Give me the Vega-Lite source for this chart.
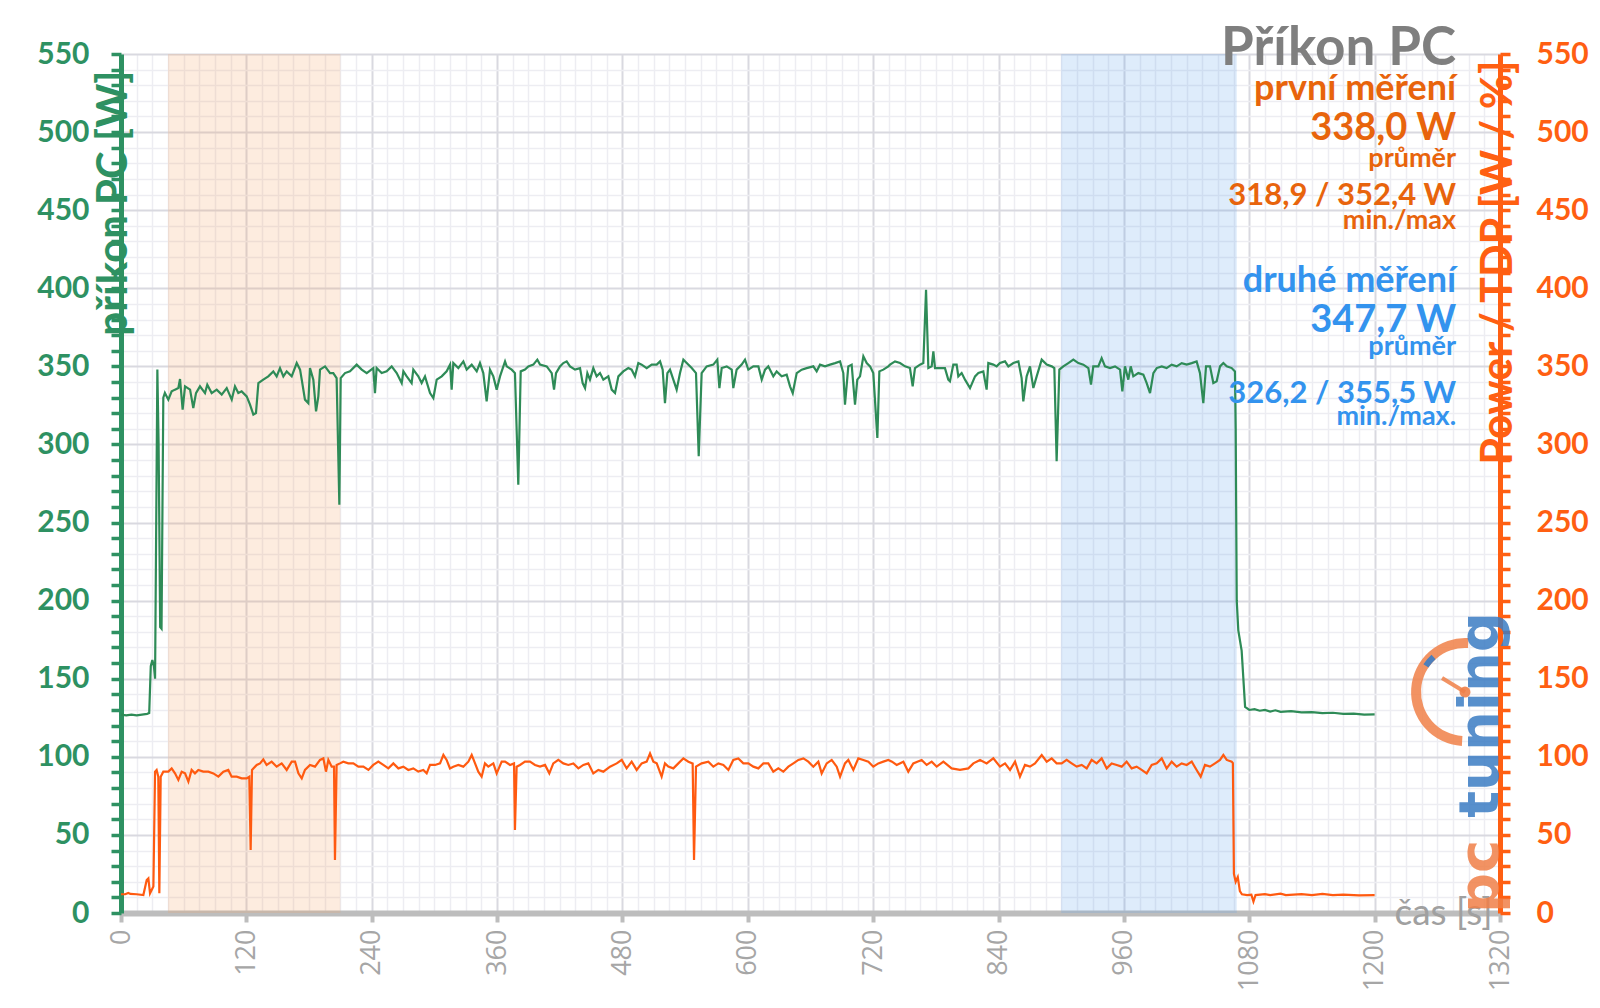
{
  "$schema": "https://vega.github.io/schema/vega-lite/v6.json",
  "width": 1379,
  "height": 859,
  "autosize": {"type": "none"},
  "padding": {"left": 121, "top": 54, "right": 100, "bottom": 95},
  "background": "white",
  "config": {"view": {"stroke": null}},
  "datasets": {
    "pasma": [
      {"t": 45, "t_konec": 210, "mereni": "první"},
      {"t": 900, "t_konec": 1068, "mereni": "druhé"}
    ],
    "logo": [
      {"text": "pc", "t": 1318, "v": 0, "cast": "pc"},
      {"text": "tuning", "t": 1318, "v": 61, "cast": "tuning"}
    ],
    "logo_budik": [
      {"t": 1286.5, "v": 141.5, "t2": 1264.5, "v2": 150.5}
    ],
    "popisky": [
      {"text": "Příkon PC", "t": 1278, "v": 543, "serie": "nadpis", "role": "nadpis"},
      {"text": "první měření", "t": 1278, "v": 520.6, "serie": "první", "role": "měření"},
      {"text": "338,0 W", "t": 1278, "v": 495, "serie": "první", "role": "hodnota"},
      {"text": "průměr", "t": 1278, "v": 477.7, "serie": "první", "role": "popis"},
      {"text": "318,9 / 352,4 W", "t": 1278, "v": 453.4, "serie": "první", "role": "rozsah"},
      {"text": "min./max", "t": 1278, "v": 438, "serie": "první", "role": "popis"},
      {"text": "druhé měření", "t": 1278, "v": 397.6, "serie": "druhé", "role": "měření"},
      {"text": "347,7 W", "t": 1278, "v": 372, "serie": "druhé", "role": "hodnota"},
      {"text": "průměr", "t": 1278, "v": 357.3, "serie": "druhé", "role": "popis"},
      {"text": "326,2 / 355,5 W", "t": 1278, "v": 326.5, "serie": "druhé", "role": "rozsah"},
      {"text": "min./max.", "t": 1278, "v": 312.5, "serie": "druhé", "role": "popis"}
    ],
    "prikon": [
      {"t":0,"p":127},{"t":5,"p":126.5},{"t":10,"p":127},{"t":15,"p":126.5},{"t":20,"p":127},{"t":25,"p":127.5},{"t":27,"p":128},{"t":28.5,"p":158},{"t":30,"p":162},{"t":31.5,"p":158},{"t":32.6,"p":150},{"t":34.8,"p":348},{"t":36,"p":300},{"t":37.5,"p":183},{"t":38.8,"p":182},{"t":40.5,"p":330},{"t":42,"p":333},
      {"t":45.3,"p":328.7},{"t":48.5,"p":334},{"t":51.7,"p":335.1},{"t":54.9,"p":336.1},{"t":56.5,"p":341.9},{"t":59,"p":322.3},{"t":61.3,"p":337.2},{"t":66.1,"p":335.1},{"t":69.2,"p":323.3},{"t":71.8,"p":332.9},{"t":75.6,"p":337.2},{"t":80.4,"p":332.9},{"t":82.6,"p":338.3},{"t":86.8,"p":332.9},{"t":91.6,"p":335.1},{"t":96.4,"p":331.9},{"t":101.2,"p":336.1},{"t":106,"p":328.7},{"t":109.1,"p":337.2},{"t":112.3,"p":332.9},{"t":115.5,"p":334},{"t":120.3,"p":330.8},{"t":123.5,"p":325.5},{"t":126.7,"p":319.1},{"t":129.2,"p":320.1},{"t":131.5,"p":339.3},{"t":136.2,"p":341.5},{"t":141,"p":343.6},{"t":145.8,"p":346.8},{"t":149,"p":343.6},{"t":152.2,"p":348.9},{"t":155.4,"p":343.6},{"t":158.6,"p":346.8},{"t":163.4,"p":343.6},{"t":168.2,"p":352.1},{"t":171.4,"p":347.9},{"t":173,"p":341.5},{"t":176.1,"p":328.7},{"t":179.3,"p":326.5},{"t":180.9,"p":348.9},{"t":184.1,"p":341.5},{"t":186.7,"p":321.2},{"t":188.9,"p":330.8},{"t":190.5,"p":347.9},{"t":195.3,"p":350},{"t":200.1,"p":345.7},{"t":203.2,"p":345.7},{"t":206.4,"p":342.5},{"t":209,"p":261.4},{"t":210.3,"p":342.5},{"t":214.4,"p":345.7},{"t":219.2,"p":346.8},{"t":225.6,"p":351.1},{"t":230.4,"p":347.9},{"t":235.2,"p":345.7},{"t":241.5,"p":348.9},{"t":243.1,"p":332.9},{"t":244.7,"p":348.9},{"t":249.5,"p":345.7},{"t":254.3,"p":346.8},{"t":259.1,"p":350},{"t":263.9,"p":345.7},{"t":268.7,"p":339.3},{"t":270.3,"p":346.8},{"t":273.5,"p":343.6},{"t":278.2,"p":339.3},{"t":279.8,"p":347.9},{"t":284.6,"p":343.6},{"t":287.8,"p":339.3},{"t":291,"p":343.6},{"t":295.8,"p":332.9},{"t":299,"p":329.7},{"t":302.2,"p":341.5},{"t":307,"p":343.6},{"t":311.7,"p":346.8},{"t":315,"p":351.1},{"t":316.5,"p":335.1},{"t":318.1,"p":352.1},{"t":322.9,"p":348.9},{"t":327.7,"p":353.2},{"t":330.9,"p":347.9},{"t":335.7,"p":351.1},{"t":340.5,"p":346.8},{"t":343.6,"p":352.1},{"t":346.8,"p":345.7},{"t":350,"p":327.6},{"t":353.2,"p":347.9},{"t":356.4,"p":343.6},{"t":359.6,"p":335.1},{"t":362.8,"p":343.6},{"t":367.6,"p":353.2},{"t":369.2,"p":350},{"t":374,"p":347.9},{"t":377.1,"p":345.7},{"t":380.3,"p":274.2},{"t":382.6,"p":346.8},{"t":386.7,"p":347.9},{"t":389.9,"p":350},{"t":394.7,"p":351.1},{"t":398.5,"p":354.3},{"t":401.1,"p":351.1},{"t":407.5,"p":350},{"t":412.3,"p":345.7},{"t":414.5,"p":335.1},{"t":416.4,"p":345.7},{"t":420.2,"p":350},{"t":423.4,"p":352.1},{"t":426.6,"p":353.2},{"t":429.8,"p":350},{"t":434.6,"p":347.9},{"t":439.4,"p":348.9},{"t":441.9,"p":339.3},{"t":444.2,"p":336.1},{"t":446.4,"p":345.7},{"t":448.9,"p":341.5},{"t":452.1,"p":348.9},{"t":455.3,"p":343.6},{"t":458.5,"p":345.7},{"t":461.7,"p":341.5},{"t":466.5,"p":343.6},{"t":469.7,"p":335.1},{"t":472.9,"p":332.9},{"t":476.1,"p":343.6},{"t":480.8,"p":346.8},{"t":485.6,"p":348.9},{"t":488.8,"p":347.9},{"t":492,"p":343.6},{"t":495.2,"p":352.1},{"t":498.4,"p":351.1},{"t":503.2,"p":348.9},{"t":508,"p":351.1},{"t":512.8,"p":351.1},{"t":516,"p":353.2},{"t":518.5,"p":347.9},{"t":520.7,"p":326.5},{"t":523,"p":345.7},{"t":525.5,"p":347.9},{"t":528.7,"p":341.5},{"t":531.9,"p":335.1},{"t":535.1,"p":345.7},{"t":538.3,"p":354.3},{"t":541.5,"p":352.1},{"t":546.3,"p":348.9},{"t":550.4,"p":345.7},{"t":553,"p":292.4},{"t":555.8,"p":345.7},{"t":560.6,"p":350},{"t":567,"p":351.1},{"t":570.8,"p":354.3},{"t":572.8,"p":336.1},{"t":575,"p":348.9},{"t":579.8,"p":350},{"t":584.6,"p":347.9},{"t":586.1,"p":336.1},{"t":589.3,"p":347.9},{"t":594.1,"p":351.1},{"t":597.3,"p":354.3},{"t":600.5,"p":347.9},{"t":605.3,"p":350},{"t":610.1,"p":350},{"t":613.3,"p":341.5},{"t":616.5,"p":347.9},{"t":619.6,"p":350},{"t":624.4,"p":343.6},{"t":627.6,"p":346.8},{"t":632.4,"p":343.6},{"t":637.2,"p":344.7},{"t":640.4,"p":337.2},{"t":643,"p":332.9},{"t":646.8,"p":345.7},{"t":651.6,"p":347.9},{"t":656.3,"p":348.9},{"t":662.7,"p":350},{"t":665.9,"p":346.8},{"t":669.1,"p":351.1},{"t":673.9,"p":350},{"t":678.7,"p":351.1},{"t":683.5,"p":352.1},{"t":688.3,"p":353.2},{"t":691.4,"p":345.7},{"t":693,"p":325.5},{"t":696.2,"p":350},{"t":699.4,"p":351.1},{"t":702.6,"p":325.5},{"t":704.8,"p":341.5},{"t":707.4,"p":343.6},{"t":710.6,"p":356.4},{"t":713.8,"p":352.1},{"t":717,"p":350},{"t":720.1,"p":345.7},{"t":724,"p":304.1},{"t":725.9,"p":346.8},{"t":729.7,"p":347.9},{"t":734.5,"p":350},{"t":736.1,"p":351.1},{"t":740.9,"p":353.2},{"t":745.7,"p":352.1},{"t":750.5,"p":350},{"t":755.2,"p":348.9},{"t":757.8,"p":337.2},{"t":760,"p":348.9},{"t":764.8,"p":351.1},{"t":768,"p":352.1},{"t":770.6,"p":399},{"t":772.8,"p":348.9},{"t":776,"p":350},{"t":777.6,"p":359.6},{"t":779.2,"p":348.9},{"t":784,"p":348.9},{"t":788.7,"p":348.9},{"t":791.9,"p":341.5},{"t":793.5,"p":340.4},{"t":796.7,"p":351.1},{"t":799.9,"p":351.1},{"t":801.5,"p":343.6},{"t":804.7,"p":345.7},{"t":807.9,"p":341.5},{"t":812.7,"p":336.1},{"t":817.5,"p":343.6},{"t":820.7,"p":345.7},{"t":825.4,"p":346.8},{"t":828.6,"p":335.1},{"t":830.2,"p":352.1},{"t":835,"p":351.1},{"t":838.2,"p":350},{"t":841.4,"p":352.1},{"t":846.2,"p":353.2},{"t":849.4,"p":350},{"t":854.2,"p":352.1},{"t":859,"p":353.2},{"t":862.1,"p":342.5},{"t":863.7,"p":327.6},{"t":866.9,"p":343.6},{"t":870.1,"p":350},{"t":873.3,"p":336.1},{"t":876.5,"p":343.6},{"t":881.3,"p":354.3},{"t":886.1,"p":351.1},{"t":890.9,"p":350},{"t":893.4,"p":348.9},{"t":895.6,"p":289.2},{"t":898.2,"p":347.9},{"t":902,"p":350},{"t":906.8,"p":352.1},{"t":911.6,"p":354.3},{"t":916.4,"p":352.1},{"t":921.2,"p":351.1},{"t":926,"p":348.9},{"t":928.5,"p":338.3},{"t":930.7,"p":350},{"t":935.5,"p":350},{"t":938.7,"p":355.3},{"t":941.9,"p":350},{"t":946.7,"p":348.9},{"t":951.5,"p":350},{"t":956.3,"p":347.9},{"t":958.5,"p":334},{"t":961,"p":350},{"t":964.2,"p":341.5},{"t":966.5,"p":350},{"t":969,"p":343.6},{"t":973.8,"p":345.7},{"t":978.6,"p":344.7},{"t":981.8,"p":339.3},{"t":985,"p":332.9},{"t":988.2,"p":345.7},{"t":991.4,"p":348.9},{"t":996.2,"p":350},{"t":1000.9,"p":348.9},{"t":1005.7,"p":351.1},{"t":1010.5,"p":350},{"t":1015.3,"p":352.1},{"t":1020.1,"p":351.1},{"t":1024.9,"p":352.1},{"t":1029.6,"p":353.2},{"t":1032.8,"p":345.7},{"t":1036,"p":326.5},{"t":1038.6,"p":350},{"t":1042.4,"p":350},{"t":1045.6,"p":339.3},{"t":1048.8,"p":340.4},{"t":1052,"p":350},{"t":1055.2,"p":352.1},{"t":1058.4,"p":350},{"t":1063.2,"p":348.9},{"t":1066.3,"p":346.8},{"t":1067,"p":310},{"t":1068,"p":200},{"t":1069.5,"p":181},{"t":1072.7,"p":168},{"t":1076,"p":132},{"t":1080,"p":130},{"t":1085,"p":130.5},{"t":1090,"p":129.5},{"t":1095,"p":130},{"t":1100,"p":129},{"t":1105,"p":129.8},{"t":1110,"p":128.8},{"t":1120,"p":129.3},{"t":1130,"p":128.5},{"t":1140,"p":128.6},{"t":1150,"p":128},{"t":1160,"p":128.2},{"t":1170,"p":127.5},{"t":1180,"p":127.6},{"t":1190,"p":127},{"t":1200,"p":127.2}
    ],
    "tdp": [
      {"t":0,"w":12},{"t":4,"w":12},{"t":7,"w":12.8},{"t":9,"w":12.2},{"t":15,"w":12},{"t":21.4,"w":11.5},{"t":24.6,"w":21.1},{"t":26.2,"w":22.2},{"t":27.8,"w":12.6},{"t":31,"w":16.9},{"t":32.6,"w":90.5},{"t":34.1,"w":91.6},{"t":35.7,"w":87.3},{"t":36.7,"w":12.6},{"t":38,"w":87.3},{"t":40.5,"w":90.5},{"t":45.3,"w":90.5},{"t":48.5,"w":92.6},{"t":51.7,"w":89.4},{"t":54.9,"w":85.2},{"t":58.1,"w":90.5},{"t":61.3,"w":89.4},{"t":64.5,"w":84.1},{"t":67.6,"w":91.6},{"t":70.8,"w":89.4},{"t":74,"w":91.6},{"t":78.8,"w":90.5},{"t":83.6,"w":90.5},{"t":88.4,"w":89.4},{"t":93.2,"w":87.3},{"t":98,"w":90.5},{"t":102.7,"w":91.6},{"t":105.9,"w":87.3},{"t":110.7,"w":87.3},{"t":115.5,"w":86.2},{"t":120.3,"w":86.2},{"t":122.8,"w":87.3},{"t":124.1,"w":40.3},{"t":125.4,"w":91.6},{"t":129.9,"w":94.8},{"t":133.1,"w":95.8},{"t":136.2,"w":98.4},{"t":139.4,"w":94.8},{"t":144.2,"w":96.9},{"t":149,"w":93.7},{"t":153.8,"w":95.8},{"t":158.6,"w":91.6},{"t":163.4,"w":96.9},{"t":166.6,"w":96.9},{"t":169.8,"w":89.4},{"t":173,"w":86.2},{"t":176.1,"w":91.6},{"t":180.9,"w":94.8},{"t":185.7,"w":93.7},{"t":190.5,"w":98},{"t":193.7,"w":99},{"t":196.2,"w":90.5},{"t":198.5,"w":98},{"t":201.7,"w":93.7},{"t":203.9,"w":93.7},{"t":204.8,"w":33.9},{"t":206.4,"w":94.8},{"t":209.6,"w":95.8},{"t":212.8,"w":96.9},{"t":217.6,"w":95.8},{"t":222.4,"w":95.8},{"t":227.2,"w":93.7},{"t":232,"w":93.7},{"t":236.8,"w":91.6},{"t":241.5,"w":94.8},{"t":246.3,"w":96.9},{"t":251.1,"w":94.8},{"t":255.9,"w":92.6},{"t":260.7,"w":95.8},{"t":265.5,"w":92.6},{"t":270.3,"w":93.7},{"t":275,"w":91.6},{"t":279.8,"w":92.6},{"t":284.6,"w":90.5},{"t":289.4,"w":91.6},{"t":292.6,"w":89.4},{"t":295.8,"w":94.8},{"t":300.6,"w":94.8},{"t":305.4,"w":95.8},{"t":308.6,"w":101.2},{"t":311.7,"w":98},{"t":314.9,"w":92.6},{"t":318.1,"w":93.7},{"t":322.9,"w":94.8},{"t":327.7,"w":93.7},{"t":332.5,"w":96.9},{"t":335.7,"w":101.2},{"t":338.9,"w":95.8},{"t":342,"w":90.5},{"t":345.2,"w":87.3},{"t":348.4,"w":95.8},{"t":351.6,"w":93.7},{"t":356.4,"w":95.8},{"t":359.6,"w":89.4},{"t":364.4,"w":96.9},{"t":367.6,"w":96.9},{"t":372.4,"w":94.8},{"t":376.2,"w":95.8},{"t":377.1,"w":53.1},{"t":378.7,"w":93.7},{"t":381.9,"w":94.8},{"t":386.7,"w":96.9},{"t":391.5,"w":96.9},{"t":396.3,"w":94.8},{"t":401.1,"w":93.7},{"t":405.9,"w":94.8},{"t":410,"w":89.4},{"t":413.8,"w":95.8},{"t":418.6,"w":98},{"t":423.4,"w":95.8},{"t":428.2,"w":94.8},{"t":433,"w":95.8},{"t":437.8,"w":92.6},{"t":442.6,"w":94.8},{"t":447.3,"w":95.8},{"t":452.1,"w":89.4},{"t":456.9,"w":91.6},{"t":461.7,"w":90.5},{"t":468.1,"w":93.7},{"t":474.5,"w":95.8},{"t":479.3,"w":98},{"t":484,"w":92.6},{"t":488.8,"w":96.9},{"t":493.6,"w":91.6},{"t":498.4,"w":95.8},{"t":503.2,"w":96.9},{"t":506.4,"w":102.2},{"t":509.6,"w":96.9},{"t":512.8,"w":95.8},{"t":517.5,"w":87.3},{"t":520.7,"w":95.8},{"t":523.9,"w":93.7},{"t":528.7,"w":92.6},{"t":533.5,"w":95.8},{"t":538.3,"w":99},{"t":543.1,"w":96.9},{"t":547.2,"w":95.8},{"t":548.5,"w":33.9},{"t":550.4,"w":93.7},{"t":555.8,"w":95.8},{"t":562.2,"w":96.9},{"t":567,"w":93.7},{"t":571.8,"w":95.8},{"t":576.6,"w":94.8},{"t":581.4,"w":91.6},{"t":586.1,"w":98},{"t":590.9,"w":99},{"t":595.7,"w":95.8},{"t":600.5,"w":95.8},{"t":605.3,"w":93.7},{"t":610.1,"w":92.6},{"t":614.9,"w":95.8},{"t":619.6,"w":95.8},{"t":624.4,"w":90.5},{"t":629.2,"w":92.6},{"t":634,"w":90.5},{"t":638.8,"w":93.7},{"t":643.6,"w":95.8},{"t":648.4,"w":98},{"t":653.2,"w":99},{"t":657.9,"w":96.9},{"t":662.7,"w":93.7},{"t":667.5,"w":96.9},{"t":670.7,"w":89.4},{"t":675.5,"w":95.8},{"t":680.3,"w":98},{"t":685.1,"w":93.7},{"t":688.3,"w":87.3},{"t":693,"w":95.8},{"t":696.2,"w":98},{"t":701,"w":91.6},{"t":705.8,"w":99},{"t":710.6,"w":98},{"t":715.4,"w":96.9},{"t":720.1,"w":93.7},{"t":724.9,"w":95.8},{"t":729.7,"w":96.9},{"t":734.5,"w":98},{"t":738,"w":96.9},{"t":742.5,"w":94.8},{"t":748.9,"w":96.9},{"t":753.6,"w":90.5},{"t":758.4,"w":95.8},{"t":766.4,"w":98},{"t":771.2,"w":94.8},{"t":776,"w":96.9},{"t":780.8,"w":93.7},{"t":787.2,"w":96.9},{"t":795.1,"w":92.6},{"t":803.1,"w":91.6},{"t":811.1,"w":92.6},{"t":815.9,"w":95.8},{"t":822.3,"w":98},{"t":828.6,"w":95.8},{"t":835,"w":99},{"t":841.4,"w":93.7},{"t":846.2,"w":95.8},{"t":851,"w":91.6},{"t":855.8,"w":96.9},{"t":860.5,"w":87.3},{"t":865.3,"w":94.8},{"t":870.1,"w":93.7},{"t":874.9,"w":95.8},{"t":881.3,"w":101.2},{"t":886.1,"w":96.9},{"t":890.9,"w":99},{"t":895.6,"w":95.8},{"t":900.4,"w":95.8},{"t":905.2,"w":98},{"t":910,"w":95.8},{"t":914.8,"w":93.7},{"t":919.6,"w":94.8},{"t":924.4,"w":92.6},{"t":929.1,"w":98},{"t":933.9,"w":95.8},{"t":938.7,"w":99},{"t":943.5,"w":92.6},{"t":948.3,"w":95.8},{"t":953.1,"w":94.8},{"t":957.9,"w":93.7},{"t":962.6,"w":96.9},{"t":967.4,"w":92.6},{"t":972.2,"w":93.7},{"t":977,"w":91.6},{"t":981.8,"w":89.4},{"t":986.6,"w":94.8},{"t":991.4,"w":95.8},{"t":996.2,"w":99},{"t":1000.9,"w":92.6},{"t":1005.7,"w":96.9},{"t":1010.5,"w":93.7},{"t":1015.3,"w":95.8},{"t":1020.1,"w":94.8},{"t":1024.9,"w":96.9},{"t":1029.6,"w":91.6},{"t":1033.5,"w":87.3},{"t":1037.6,"w":94.8},{"t":1042.4,"w":93.7},{"t":1047.2,"w":95.8},{"t":1052,"w":98},{"t":1055.2,"w":101.2},{"t":1058.4,"w":98},{"t":1063.2,"w":96.9},{"t":1064.3,"w":96},{"t":1065.3,"w":25},{"t":1067,"w":20},{"t":1069,"w":23},{"t":1071,"w":14},{"t":1073,"w":12},{"t":1078,"w":11.5},{"t":1082,"w":11.8},{"t":1084,"w":7.3},{"t":1086,"w":11.5},{"t":1095,"w":12.1},{"t":1100,"w":11.5},{"t":1110,"w":12.4},{"t":1115,"w":11.5},{"t":1130,"w":12.1},{"t":1140,"w":11.5},{"t":1150,"w":12.3},{"t":1160,"w":11.5},{"t":1170,"w":11.8},{"t":1185,"w":11.3},{"t":1200,"w":11.5}
    ]
  },
  "encoding": {
    "x": {
      "field": "t", "type": "quantitative",
      "scale": {"domain": [0, 1320], "nice": false, "zero": false},
      "axis": {
        "values": [0,15,30,45,60,75,90,105,120,135,150,165,180,195,210,225,240,255,270,285,300,315,330,345,360,375,390,405,420,435,450,465,480,495,510,525,540,555,570,585,600,615,630,645,660,675,690,705,720,735,750,765,780,795,810,825,840,855,870,885,900,915,930,945,960,975,990,1005,1020,1035,1050,1065,1080,1095,1110,1125,1140,1155,1170,1185,1200,1215,1230,1245,1260,1275,1290,1305,1320],
        "format": "d",
        "grid": true,
        "gridColor": {"condition": {"test": "datum.value % 120 === 0", "value": "#D9D9E0"}, "value": "#EDEDF2"},
        "gridWidth": {"condition": {"test": "datum.value % 120 === 0", "value": 2}, "value": 1.5},
        "ticks": true,
        "tickSize": 9,
        "tickOpacity": {"condition": {"test": "datum.value % 120 === 0", "value": 1}, "value": 0},
        "tickColor": "#BDBDBD",
        "tickWidth": 4,
        "domainColor": "#BDBDBD",
        "domainWidth": 6,
        "labelExpr": "datum.value % 120 === 0 ? datum.label : ''",
        "labelAngle": -90,
        "labelAlign": "right",
        "labelBaseline": "middle",
        "labelFont": "Open Sans",
        "labelFontSize": 27,
        "labelColor": "#A6A6A6",
        "labelPadding": 7,
        "labelOverlap": false,
        "labelFlush": false,
        "title": "čas [s]",
        "titleFont": "Lato",
        "titleFontSize": 37,
        "titleFontWeight": "normal",
        "titleColor": "#A0A0A0",
        "titleAngle": 0,
        "titleAlign": "right",
        "titleBaseline": "middle",
        "titleX": 1371,
        "titleY": 0
      }
    }
  },
  "layer": [
    {
      "data": {"name": "pasma"},
      "mark": {"type": "rect", "opacity": 0.2},
      "encoding": {
        "x2": {"field": "t_konec"},
        "color": {"field": "mereni", "type": "nominal", "scale": {"domain": ["první", "druhé"], "range": ["#F5A060", "#5AA0EA"]}, "legend": null}
      }
    },
    {
      "data": {"name": "prikon"},
      "mark": {"type": "line", "color": "#2E8B57", "strokeWidth": 2.2},
      "encoding": {
        "y": {
          "field": "p", "type": "quantitative",
          "scale": {"domain": [0, 550], "nice": false},
          "axis": {
            "orient": "left",
            "values": [0,10,20,30,40,50,60,70,80,90,100,110,120,130,140,150,160,170,180,190,200,210,220,230,240,250,260,270,280,290,300,310,320,330,340,350,360,370,380,390,400,410,420,430,440,450,460,470,480,490,500,510,520,530,540,550],
            "grid": true,
            "gridColor": {"condition": {"test": "datum.value % 50 === 0", "value": "#D9D9E0"}, "value": "#EDEDF2"},
            "gridWidth": {"condition": {"test": "datum.value % 50 === 0", "value": 2}, "value": 1.5},
            "domainColor": "#2E9162",
            "domainWidth": 5,
            "tickColor": "#2E9162",
            "tickWidth": 3.5,
            "tickSize": 10,
            "labelExpr": "datum.value % 50 === 0 ? datum.label : ''",
            "labelFont": "Lato",
            "labelFontWeight": "bold",
            "labelFontSize": 30,
            "labelColor": "#2E9162",
            "labelPadding": 22,
            "labelOverlap": false,
            "labelFlush": false,
            "labelBaseline": "middle",
            "title": "příkon PC [W]",
            "titleColor": "#2E9162",
            "titleFont": "Lato",
            "titleFontWeight": "bold",
            "titleFontSize": 42,
            "titleAngle": -90,
            "titleAlign": "right",
            "titleBaseline": "middle",
            "titleX": -8,
            "titleY": 16
          }
        }
      }
    },
    {
      "data": {"name": "tdp"},
      "mark": {"type": "line", "color": "#FF5A10", "strokeWidth": 2.2},
      "encoding": {
        "y": {
          "field": "w", "type": "quantitative",
          "scale": {"domain": [0, 550], "nice": false},
          "axis": {
            "orient": "right",
            "values": [0,10,20,30,40,50,60,70,80,90,100,110,120,130,140,150,160,170,180,190,200,210,220,230,240,250,260,270,280,290,300,310,320,330,340,350,360,370,380,390,400,410,420,430,440,450,460,470,480,490,500,510,520,530,540,550],
            "grid": false,
            "domainColor": "#FF5F12",
            "domainWidth": 5,
            "tickColor": "#FF5F12",
            "tickWidth": 3.5,
            "tickSize": 10,
            "labelExpr": "datum.value % 50 === 0 ? datum.label : ''",
            "labelFont": "Lato",
            "labelFontWeight": "bold",
            "labelFontSize": 30,
            "labelColor": "#FF5F12",
            "labelPadding": 26,
            "labelOverlap": false,
            "labelFlush": false,
            "labelBaseline": "middle",
            "title": "Power / TDP [W / %]",
            "titleColor": "#FF5F12",
            "titleFont": "Lato",
            "titleFontWeight": "bold",
            "titleFontSize": 43,
            "titleAngle": -90,
            "titleAlign": "right",
            "titleBaseline": "middle",
            "titleX": -2,
            "titleY": 6
          }
        }
      }
    },
    {
      "data": {"name": "logo_budik"},
      "encoding": {
        "y": {"field": "v", "type": "quantitative", "scale": {"domain": [0, 550], "nice": false}, "axis": null}
      },
      "layer": [
        {"mark": {"type": "arc", "theta": 3.2, "theta2": 6.35, "radius": 54, "radius2": 44, "color": "#F08048", "opacity": 0.85}},
        {"mark": {"type": "arc", "theta": 5.3, "theta2": 5.55, "radius": 50, "radius2": 44, "color": "#3C7DC4", "opacity": 0.9}},
        {"mark": {"type": "rule", "color": "#F08048", "strokeWidth": 4, "opacity": 0.85}, "encoding": {"x2": {"field": "t2"}, "y2": {"field": "v2"}}},
        {"mark": {"type": "circle", "color": "#F08048", "size": 120, "opacity": 0.9}}
      ]
    },
    {
      "data": {"name": "logo"},
      "mark": {"type": "text", "angle": 270, "align": "left", "baseline": "alphabetic", "font": "DejaVu Sans", "fontWeight": "bold", "fontSize": 56, "opacity": 0.85},
      "encoding": {
        "y": {"field": "v", "type": "quantitative", "scale": {"domain": [0, 550], "nice": false}, "axis": null},
        "text": {"field": "text"},
        "color": {"field": "cast", "type": "nominal", "scale": {"domain": ["pc", "tuning"], "range": ["#F08048", "#3C7DC4"]}, "legend": null}
      }
    },
    {
      "data": {"name": "popisky"},
      "encoding": {
        "y": {"field": "v", "type": "quantitative", "scale": {"domain": [0, 550], "nice": false}, "axis": null},
        "text": {"field": "text"},
        "color": {"field": "serie", "type": "nominal", "scale": {"domain": ["nadpis", "první", "druhé"], "range": ["#7F7F7F", "#E8640C", "#3393EE"]}, "legend": null}
      },
      "layer": [
        {"transform": [{"filter": "datum.role === 'nadpis'"}], "mark": {"type": "text", "align": "right", "baseline": "alphabetic", "font": "Lato", "fontWeight": "bold", "fontSize": 53}},
        {"transform": [{"filter": "datum.role === 'měření'"}], "mark": {"type": "text", "align": "right", "baseline": "alphabetic", "font": "Lato", "fontWeight": "bold", "fontSize": 36}},
        {"transform": [{"filter": "datum.role === 'hodnota'"}], "mark": {"type": "text", "align": "right", "baseline": "alphabetic", "font": "Lato", "fontWeight": "bold", "fontSize": 38}},
        {"transform": [{"filter": "datum.role === 'rozsah'"}], "mark": {"type": "text", "align": "right", "baseline": "alphabetic", "font": "Lato", "fontWeight": "bold", "fontSize": 31}},
        {"transform": [{"filter": "datum.role === 'popis'"}], "mark": {"type": "text", "align": "right", "baseline": "alphabetic", "font": "Lato", "fontWeight": "bold", "fontSize": 27}}
      ]
    }
  ],
  "resolve": {
    "scale": {"y": "independent", "color": "independent"},
    "axis": {"y": "independent"}
  }
}
